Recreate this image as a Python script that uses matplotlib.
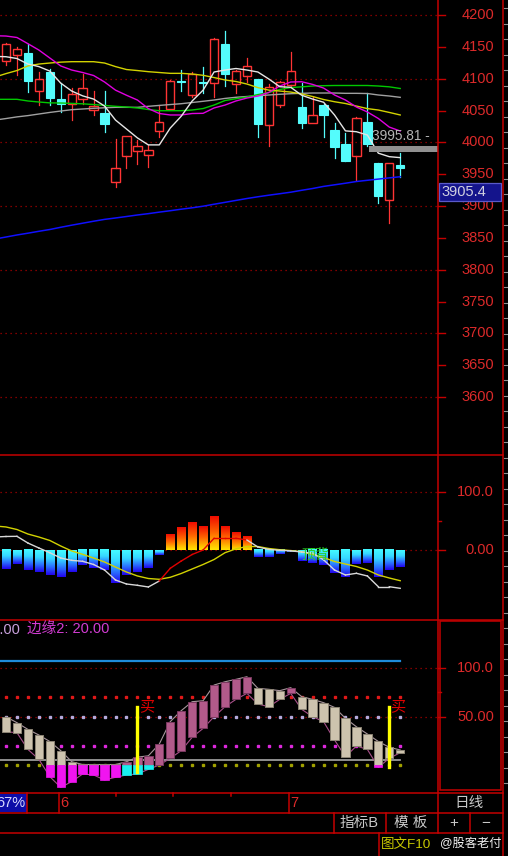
import numpy as np
import matplotlib
matplotlib.use("Agg")
import matplotlib.pyplot as plt
from matplotlib.colors import LinearSegmentedColormap
from matplotlib.patches import Rectangle
from matplotlib.transforms import blended_transform_factory

plt.rcParams['font.family'] = ['Liberation Sans', 'Noto Sans CJK SC', 'DejaVu Sans']

W, H = 508, 856

# ---- 日K线 (37根) ----
opens = [4127, 4137, 4140, 4081, 4111, 4068, 4061, 4068, 4051, 4046,
         3938, 3978, 3986, 3980, 4018, 4053, 4096, 4074, 4095, 4094,
         4154, 4091, 4104, 4099, 4027, 4059, 4090, 4056, 4031, 4059,
         4019, 3998, 3978, 4032, 3967, 3909, 3965]
highs = [4156, 4150, 4154, 4111, 4115, 4093, 4085, 4107, 4080, 4080,
         4006, 4010, 4004, 3996, 4059, 4098, 4114, 4110, 4119, 4164,
         4175, 4114, 4132, 4100, 4092, 4097, 4142, 4093, 4072, 4060,
         4030, 4015, 4040, 4077, 3968, 3968, 3983]
lows = [4121, 4106, 4079, 4059, 4059, 4048, 4035, 4061, 4043, 4017,
        3930, 3959, 3966, 3961, 4009, 4052, 4080, 4072, 4077, 4071,
        4088, 4078, 4095, 4009, 3994, 4056, 4088, 4022, 4030, 4009,
        3975, 3970, 3941, 3995, 3904, 3873, 3945]
closes = [4154, 4146, 4096, 4099, 4070, 4061, 4076, 4085, 4057, 4029,
          3959, 4010, 3994, 3988, 4032, 4097, 4095, 4108, 4093, 4163,
          4108, 4112, 4120, 4029, 4087, 4095, 4112, 4031, 4043, 4043,
          3992, 3971, 4038, 3997, 3915, 3967, 3959]

# 均线, 从 index -1 开始 (38个点)
ma_white = [4135, 4134.5, 4131.7, 4123, 4119, 4112, 4093, 4080.6, 4073, 4068,
            4057, 4035, 4021, 4007, 3996, 3996, 4022.5, 4041, 4065, 4082,
            4110.5, 4113.6, 4116, 4113.6, 4110.5, 4099.5, 4087.4, 4086.5, 4074, 4068,
            4063, 4043, 4018, 4016.7, 4011.5, 3983, 3977.5, 3976]
ma_magenta = [4167.5, 4167, 4164.7, 4155, 4145, 4132.5, 4120, 4113.6, 4109.7, 4105,
              4094.8, 4082, 4074, 4066.5, 4053, 4045.3, 4043, 4043, 4045.3, 4045.6,
              4054, 4058.6, 4065, 4069.6, 4072.8, 4078.3, 4088.5, 4094.8, 4095.2, 4091,
              4085.3, 4074.4, 4066.5, 4055.5, 4047.7, 4037.5, 4024, 4017.8]
ma_yellow = [4102.6, 4108, 4112.8, 4120, 4123, 4124.6, 4126, 4126.7, 4126.7, 4126.7,
             4124.6, 4119, 4114.4, 4112.8, 4111, 4109.7, 4108.4, 4108.4, 4107.3, 4105.3,
             4101.8, 4098, 4095.6, 4091.6, 4086, 4082, 4080.6, 4079, 4076, 4072,
             4067.3, 4063.8, 4061, 4057, 4053, 4050.8, 4047, 4043]
ma_green = [4067.6, 4067.6, 4067.6, 4065, 4063.4, 4062, 4061.8, 4061.2, 4060.5, 4059.4,
            4058, 4056.6, 4055.5, 4054, 4051.6, 4049.7, 4049.7, 4049.7, 4050.8, 4053.1,
            4058.6, 4065.7, 4068.5, 4071.2, 4075, 4078.3, 4083, 4086, 4087.2, 4088.5,
            4089, 4089.3, 4089.3, 4089.3, 4089.3, 4088.5, 4087.2, 4084.6]
ma_gray = [4035, 4037.4, 4040, 4042, 4044.5, 4047, 4049.2, 4051.3, 4052.4, 4053.5,
           4054.3, 4055, 4055, 4055, 4056.6, 4058, 4059.4, 4060.7, 4062.6, 4064.5,
           4066.5, 4069, 4070.8, 4072, 4073.2, 4074.4, 4075.5, 4076.4, 4077, 4077.5,
           4077.5, 4077.5, 4077, 4077, 4076.7, 4074.4, 4072.8, 4070.7]
ma_blue = [3848.2, 3851.3, 3854.5, 3857.3, 3860.3, 3863.1, 3866.6, 3869.9, 3873, 3876.1,
           3879, 3881.2, 3883.5, 3885.9, 3888, 3890.4, 3892.6, 3895, 3897.2, 3899.7,
           3902.8, 3905.8, 3908.8, 3911.8, 3914.5, 3917, 3919.3, 3921.7, 3924.7, 3927.5,
           3930.8, 3933.3, 3935.8, 3938.5, 3940.4, 3942.3, 3944.2, 3946]

price_ticks = [4200, 4150, 4100, 4050, 4000, 3950, 3900, 3850, 3800, 3750, 3700, 3650, 3600]
price_grid = [4200, 4100, 4000, 3900, 3800, 3700, 3600]
mark_price = 3995.81
cursor_label = '3905.4'
cursor_price = 3922

# ---- MACD ----
macd_hist = [-33, -24, -34.7, -37.5, -43, -46, -37.5, -26, -31.8, -34.7,
             -56.6, -43, -37.5, -30.6, -8, 26, 38.6, 47.3, 40.4, 57.7,
             40.4, 30, 23, -12.7, -12.7, -7, -3, -18.5, -23, -26,
             -39.3, -47.3, -24, -23, -47.3, -34.7, -29]
macd_dif = [22.5, 23.4, 23.7, 12.1, 3.5, -4.7, -13.9, -17.9, -19.6, -25.1,
            -34.7, -52, -58.9, -61.2, -64.1, -53.7, -31.7, -19.1, -7.8, 0,
            20.3, 20.3, 20.3, 17.3, 5.2, 1.0, -0.5, -1.5, -3.5, -5.5,
            -17, -34.7, -43.3, -40.4, -45, -63.6, -63.6, -66.4]
macd_dea = [41.6, 39.9, 35.5, 27.7, 22.5, 16.5, 6.9, -1.7, -7.5, -13.9,
            -20.8, -29.5, -38.1, -45, -49.4, -50.8, -47.3, -40.7, -32.9, -25.1,
            -16.5, -4.7, 2, 6, 6, 2.6, 0.5, -1.0, -3.0, -7.8,
            -13, -19.9, -24.3, -28.6, -34.7, -43.3, -48.5, -53.2]
macd_labels = [(100.0, '100.0'), (0.0, '0.00')]
divergence_idx, divergence_val = 28.2, -7

# ---- 第三指标 (柱体) ----
kd_open = [49.9, 43.7, 36.8, 31, 24.3, 14.8, 3.4, 0.5, 0.5, 0.5,
           0.5, -10.3, -9.3, -4.5, 0, 6.9, 14.8, 28.6, 37.8, 49.9,
           60.2, 67.8, 74, 79.2, 78.2, 76.8, 74, 70.6, 67.8, 64.4,
           59.5, 48.2, 39.5, 32, 24.3, 18.3, 15.5]
kd_close = [34.4, 33.4, 16.1, 5.9, -12, -23.1, -17.2, -9.3, -10.3, -15.5,
            -12.7, 3.4, 8.1, 9.5, 21.7, 44.8, 56.1, 65.4, 66.4, 82.6,
            86, 88.5, 91.2, 63, 60.2, 67.8, 79.9, 57.5, 49.9, 44.8,
            25.8, 8.6, 19.6, 16.1, -2.4, 6.9, 12.7]
buy_idx = [12, 35]
buy_low = [-6.9, -1.7]
buy_high = [60.2, 60.2]
kd_top_band = 107.4
kd_base_band = 5.0
kd_dot_levels = [70.5, 50, 20, 0]
kd_labels = [(100.0, '100.0'), (50.0, '50.00')]

# ---- 颜色 ----
BG = 'black'
UP = '#ff3434'
DOWN = '#54fcfc'
LBL = '#dc2a2a'
GRID = '#a80000'
FRAME = '#c40000'

n = len(opens)
idx = np.arange(n)
ma_idx = np.arange(-1, n)
XL = (-0.548, 39.45)
BW = 0.76

fig = plt.figure(figsize=(W / 100, H / 100), dpi=100, facecolor=BG)


def px_axes(x0, y0, x1, y1):
    ax = fig.add_axes([x0 / W, 1 - y1 / H, (x1 - x0) / W, (y1 - y0) / H])
    ax.set_facecolor(BG)
    for s in ax.spines.values():
        s.set_visible(False)
    ax.set_xticks([])
    ax.set_yticks([])
    return ax


def right_axis(ax, labels, long_ticks, short_ticks):
    tr = blended_transform_factory(ax.transAxes, ax.transData)
    for t in long_ticks:
        ax.plot([1, 1 + 7 / 438], [t, t], transform=tr, color=FRAME, lw=1, clip_on=False)
    for t in short_ticks:
        ax.plot([1, 1 + 3 / 438], [t, t], transform=tr, color=FRAME, lw=1, clip_on=False)
    for val, lab in labels:
        ax.text(494 / 438, val, lab, transform=tr, ha='right', va='center',
                color=LBL, fontsize=10.5, clip_on=False)


# ================= 主图 =================
ax1 = px_axes(0, 0, 438, 455)
for g in price_grid:
    ax1.axhline(g, color=GRID, lw=0.9, ls=(0, (1, 3)))

for i in range(n):
    o, h, l, c = opens[i], highs[i], lows[i], closes[i]
    if c >= o:
        ax1.plot([i, i], [max(o, c), h], color=UP, lw=0.9, zorder=2)
        ax1.plot([i, i], [l, min(o, c)], color=UP, lw=0.9, zorder=2)
        ax1.add_patch(Rectangle((i - BW / 2, o), BW, max(c - o, 1.2), fill=False,
                                edgecolor=UP, lw=1.0, zorder=3))
    else:
        ax1.plot([i, i], [l, h], color=DOWN, lw=0.9, zorder=2)
        ax1.add_patch(Rectangle((i - BW / 2, c), BW, max(o - c, 1.5), facecolor=DOWN,
                                edgecolor=DOWN, lw=0.8, zorder=3))

ax1.plot(ma_idx, ma_gray, color='#a0a0a0', lw=1.0, zorder=4)
ax1.plot(ma_idx, ma_green, color='#00c800', lw=1.0, zorder=4)
ax1.plot(ma_idx, ma_yellow, color='#d2d200', lw=1.0, zorder=4)
ax1.plot(ma_idx, ma_magenta, color='#e000e0', lw=1.0, zorder=4)
ax1.plot(ma_idx, ma_blue, color='#1010ff', lw=1.1, zorder=4)
ax1.plot(ma_idx, ma_white, color='#e6e6e6', lw=1.0, zorder=5)

# 价位标记
ax1.add_patch(Rectangle((33.15, mark_price - 10.5), XL[1] - 33.15, 9.5,
                        facecolor='#909090', edgecolor='none', zorder=5))
ax1.text(33.4, mark_price + 8, f'{mark_price:.2f} -', color='#b4b4b4',
         fontsize=9.8, ha='left', va='baseline', zorder=6)

ax1.set_xlim(*XL)
ax1.set_ylim(3508.9, 4223.6)
right_axis(ax1, [(p, str(p)) for p in price_ticks], price_ticks, [])

# 光标价格框
tr1 = blended_transform_factory(ax1.transAxes, ax1.transData)
ax1.add_patch(Rectangle((1 + 1.5 / 438, cursor_price - 14.2), 62 / 438, 28.4, transform=tr1,
                        facecolor='#14148c', edgecolor='#5a5ac8', lw=0.9,
                        clip_on=False, zorder=11))
ax1.text(441.5 / 438, cursor_price, cursor_label, transform=tr1, ha='left', va='center',
         color='#d0d0e0', fontsize=10.5, clip_on=False, zorder=12)

# ================= MACD =================
ax2 = px_axes(0, 455, 438, 620)
ax2.axhline(100, color=GRID, lw=0.9, ls=(0, (1, 3)))
ax2.axhline(0, color=GRID, lw=0.9, ls=(0, (1, 3)))

cm_neg = LinearSegmentedColormap.from_list('neg', ['#44faff', '#36d8ff', '#2a70ff', '#2204ee'])
cm_pos = LinearSegmentedColormap.from_list('pos', ['#f00c00', '#ff6a00', '#ffe400'])
grad = np.linspace(0, 1, 64).reshape(-1, 1)
for i, v in enumerate(macd_hist):
    if v < 0:
        ax2.imshow(grad, cmap=cm_neg, aspect='auto', extent=(i - BW / 2, i + BW / 2, v, 0),
                   zorder=2, interpolation='bilinear')
    else:
        ax2.imshow(grad, cmap=cm_pos, aspect='auto', extent=(i - BW / 2, i + BW / 2, 0, v),
                   zorder=2, interpolation='bilinear')

ax2.plot(ma_idx, macd_dea, color='#d2d200', lw=1.0, zorder=3)
for k in range(len(ma_idx) - 1):
    hist_k = macd_hist[k] if k < n else 0
    col = '#e00000' if (hist_k > 0 and macd_dif[k + 1] > macd_dea[k + 1]) else '#d8d8d8'
    ax2.plot(ma_idx[k:k + 2], macd_dif[k:k + 2], color=col, lw=1.0, zorder=4)

ax2.text(divergence_idx, divergence_val, '顶背', color='#28d228', fontsize=10,
         ha='center', va='center', zorder=6)
ax2.set_xlim(*XL)
ax2.set_ylim(-121.3, 164.6)
right_axis(ax2, macd_labels, [100, 0], [50])

# ================= 第三指标 =================
ax3 = px_axes(0, 620, 438, 792)
ax3.axhline(100, color=GRID, lw=0.9, ls=(0, (1, 3)))
ax3.axhline(50, color=GRID, lw=0.9, ls=(0, (1, 3)))
ax3.plot([XL[0], n - 1], [kd_top_band, kd_top_band], color='#1e8cdc', lw=1.6)
ax3.plot([XL[0], n - 1], [kd_base_band, kd_base_band], color='#a8a8a8', lw=1.2, zorder=3)

for lev, col in zip(kd_dot_levels, ['#e01818', '#b4aadc', '#dc28dc', '#a0a000']):
    ax3.plot(idx, [lev] * n, ls='none', marker='s', ms=1.5, color=col, zorder=2)

tops = np.maximum(kd_open, kd_close)
bots = np.minimum(kd_open, kd_close)
ax3.plot(idx, tops, color='#a8969c', lw=0.8, zorder=3)
ax3.plot(idx, bots, color='#a8508a', lw=0.8, zorder=3)

for i in range(n):
    o, c = kd_open[i], kd_close[i]
    rising = c > o
    t, b = max(o, c), min(o, c)
    up_col, up_edge = ('#b25a8a', '#7a3a60') if rising else ('#cdc3ae', '#8c8474')
    neg_col = '#18f0f0' if rising else '#f014f0'
    if t > 0:
        lo = max(b, 0)
        ax3.add_patch(Rectangle((i - BW / 2, lo), BW, max(t - lo, 1.0), facecolor=up_col,
                                edgecolor=up_edge, lw=0.7, zorder=4))
    if b < 0:
        hi = min(t, 0)
        ax3.add_patch(Rectangle((i - BW / 2, b), BW, hi - b, facecolor=neg_col,
                                edgecolor=neg_col, lw=0.5, zorder=4))

for bi, bl, bh in zip(buy_idx, buy_low, buy_high):
    ax3.plot([bi, bi], [bl, bh], color='#ffff00', lw=2.4, zorder=6)
    ax3.text(bi + 0.12, bh, '买', color='#e00000', fontsize=11, ha='left', va='center', zorder=7)

ax3.set_xlim(*XL)
ax3.set_ylim(-27.9, 149.8)
right_axis(ax3, kd_labels, [100, 50], [75])

# ================= 框线与底栏 =================
ov = fig.add_axes([0, 0, 1, 1], zorder=10)
ov.set_xlim(0, W)
ov.set_ylim(H, 0)
ov.axis('off')
ov.patch.set_alpha(0)


def hl(y, x0=0, x1=502.5):
    ov.plot([x0, x1], [y, y], color=FRAME, lw=1.1)


def vl(x, y0, y1):
    ov.plot([x, x], [y0, y1], color=FRAME, lw=1.1)


for yy in [455, 619.5, 792.5, 812.5, 833]:
    hl(yy)
vl(438, 0, 833)
vl(502.5, 0, 856)
for xx in [27, 58.5, 288.5]:
    vl(xx, 792.5, 812.5)
for xx in [116, 173, 231]:
    vl(xx, 792.5, 795.5)
for xx in [333.5, 386, 470]:
    vl(xx, 812.5, 833)
vl(379, 833, 856)
ov.add_patch(Rectangle((440, 621), 61, 169, fill=False, edgecolor=FRAME, lw=1.1))

for yy in np.arange(8, 792, 15.5):
    ov.plot([504, 508], [yy, yy], color='#909090', lw=0.8)

# 第三指标参数
ov.text(20, 630, '80.00', color='#c8a0dc', fontsize=10.5, ha='right', va='center')
ov.text(27, 630, '边缘2: 20.00', color='#d23cd2', fontsize=10.5, ha='left', va='center')

# 底栏
ov.add_patch(Rectangle((0, 793.5), 26.5, 18.5, facecolor='#0c0ca8', edgecolor='none'))
ov.text(25.5, 803, '67%', color='#d8d8ff', fontsize=10.5, ha='right', va='center')
ov.text(60, 803, '6', color=LBL, fontsize=10.5, ha='left', va='center')
ov.text(290, 803, '7', color=LBL, fontsize=10.5, ha='left', va='center')
ov.text(469, 803, '日线', color='#c8c8c8', fontsize=10.5, ha='center', va='center')
ov.text(340, 823, '指标B', color='#c8c8c8', fontsize=10.5, ha='left', va='center')
ov.text(411, 823, '模 板', color='#c8c8c8', fontsize=10.5, ha='center', va='center')
ov.text(454, 823, '+', color='#c8c8c8', fontsize=11, ha='center', va='center')
ov.text(486, 823, '−', color='#c8c8c8', fontsize=11, ha='center', va='center')
ov.text(381, 845, '图文F10', color='#c8c800', fontsize=9.7, ha='left', va='center')
ov.text(440, 844, '@股客老付', color='#f0f0f0', fontsize=8.8, ha='left', va='center')

fig.savefig('out.png', dpi=100, facecolor=BG)
